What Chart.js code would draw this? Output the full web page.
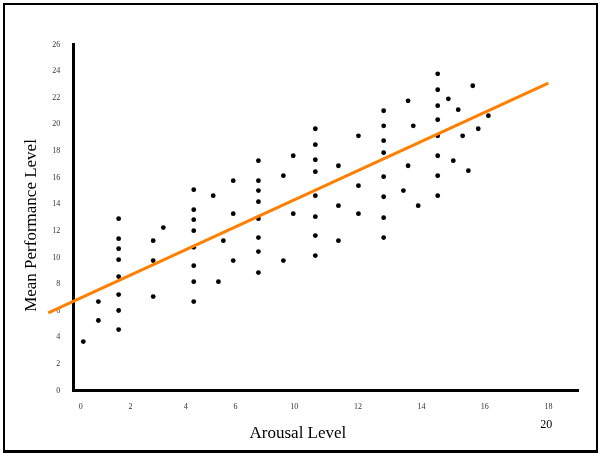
<!DOCTYPE html>
<html>
<head>
<meta charset="utf-8">
<title>Arousal vs Performance</title>
<script src="https://cdn.jsdelivr.net/npm/chart.js@4.4.0/dist/chart.umd.min.js"></script>
<style>
  html, body { margin: 0; padding: 0; background: #fff; }
  #wrap { position: relative; width: 600px; height: 453px; }
  #frame { position: absolute; left: 3px; top: 3px; width: 595px; height: 450px; box-sizing: border-box; border: 2px solid #000; border-bottom-width: 3px; }
  #chart { position: absolute; left: 0; top: 0; }
</style>
</head>
<body>
<div id="wrap">
  <div id="frame"></div>
  <canvas id="chart" width="600" height="453"></canvas>
</div>
<script>
// Données
const arousal = [
  0.10, 0.68, 0.68,
  1.46, 1.46, 1.46, 1.46, 1.46, 1.46, 1.46, 1.46,
  2.79, 2.79, 2.79, 3.18,
  4.35, 4.35, 4.35, 4.35, 4.35, 4.35, 4.35, 4.35,
  5.10, 5.30, 5.49, 5.87, 5.87, 5.87,
  6.84, 6.84, 6.84, 6.84, 6.84, 6.84, 6.84, 6.84,
  7.80, 7.80, 8.18, 8.18,
  9.03, 9.03, 9.03, 9.03, 9.03, 9.03, 9.03, 9.03,
  9.92, 9.92, 9.92, 10.69, 10.69, 10.69,
  11.66, 11.66, 11.66, 11.66, 11.66, 11.66, 11.66, 11.66,
  12.42, 12.60, 12.60, 12.80, 12.99,
  13.74, 13.74, 13.74, 13.74, 13.74, 13.74, 13.74, 13.74,
  14.15, 14.34, 14.53, 14.70, 14.92, 15.09, 15.30, 15.69
];
const meanPerf = [
  3.68, 6.68, 5.26,
  12.91, 11.41, 10.66, 9.83, 8.56, 7.21, 6.01, 4.58,
  11.26, 9.76, 7.06, 12.24,
  15.09, 13.59, 12.84, 12.01, 10.76, 9.38, 8.18, 6.68,
  14.64, 8.18, 11.26, 15.77, 13.29, 9.76,
  17.27, 15.77, 15.02, 14.19, 12.91, 11.49, 10.44, 8.86,
  16.14, 9.76, 17.64, 13.29,
  19.67, 18.47, 17.34, 16.44, 14.64, 13.06, 11.64, 10.14,
  16.89, 13.89, 11.26, 19.14, 15.39, 13.29,
  21.02, 19.89, 18.77, 17.87, 16.07, 14.56, 12.99, 11.49,
  15.02, 21.77, 16.89, 19.89, 13.89,
  23.80, 22.60, 21.40, 20.35, 19.14, 17.64, 16.14, 14.64,
  21.92, 17.27, 21.10, 19.14, 16.52, 22.90, 19.67, 20.65
];

// Droite de tendance (extrémités)
const fitX = [-1.25, 18.0];
const fitY = [5.83, 23.1];

// Graduations de l'axe X (irrégulières sur l'original)
const xTickPos = [0, 1.92, 4.04, 5.96, 8.22, 10.67, 13.12, 15.55, 18];
const xTickLabels = ['0', '2', '4', '6', '10', '12', '14', '16', '18'];
const cornerLabel = '20';
const xTitle = 'Arousal Level';
const yTitle = 'Mean Performance Level';

const serif = '"Liberation Serif", "Times New Roman", serif';

const points = arousal.map((a, i) => ({ x: a, y: meanPerf[i] }));
const fitLine = fitX.map((a, i) => ({ x: a, y: fitY[i] }));

// Titres des axes + le "20" isolé sous l'axe X
const axisText = {
  id: 'axisText',
  afterDraw(chart) {
    const { ctx, scales: { x, y } } = chart;
    ctx.save();
    ctx.fillStyle = '#000';
    ctx.textAlign = 'center';
    ctx.textBaseline = 'middle';
    ctx.font = '17px ' + serif;
    ctx.fillText(xTitle, x.getPixelForValue(8.36), x.top + 43);
    ctx.font = '12px ' + serif;
    ctx.fillText(cornerLabel, x.getPixelForValue(17.92), x.top + 34);
    ctx.font = '17px ' + serif;
    ctx.translate(32, y.getPixelForValue(12.4));
    ctx.rotate(-Math.PI / 2);
    ctx.fillText(yTitle, 0, 0);
    ctx.restore();
  }
};

new Chart(document.getElementById('chart'), {
  type: 'scatter',
  data: {
    datasets: [
      {
        label: 'Data',
        data: points,
        pointRadius: 2.4,
        pointBackgroundColor: '#000',
        pointBorderWidth: 0,
        order: 2
      },
      {
        type: 'line',
        label: 'Fit',
        data: fitLine,
        borderColor: '#FF8000',
        borderWidth: 3,
        pointRadius: 0,
        fill: false,
        clip: false,
        order: 1
      }
    ]
  },
  options: {
    responsive: false,
    animation: false,
    layout: { padding: { top: 44.5, right: 22, bottom: 0, left: 0 } },
    plugins: {
      legend: { display: false },
      tooltip: { enabled: false }
    },
    scales: {
      x: {
        type: 'linear',
        min: -0.285,
        max: 19.14,
        grid: { display: false, drawTicks: false },
        border: { display: true, color: '#000', width: 3 },
        afterBuildTicks: scale => {
          scale.ticks = xTickPos.map(v => ({ value: v }));
        },
        afterFit: scale => { scale.height = 62.5; },
        ticks: {
          padding: 12,
          autoSkip: false,
          maxRotation: 0,
          color: '#333',
          font: { family: serif, size: 8 },
          callback: (v, i) => xTickLabels[i]
        }
      },
      y: {
        min: 0,
        max: 26,
        grid: { display: false, drawTicks: false },
        border: { display: true, color: '#000', width: 3 },
        afterFit: scale => { scale.width = 73.3; },
        ticks: {
          stepSize: 2,
          padding: 13,
          color: '#333',
          font: { family: serif, size: 8 }
        }
      }
    }
  },
  plugins: [axisText]
});
</script>
</body>
</html>
